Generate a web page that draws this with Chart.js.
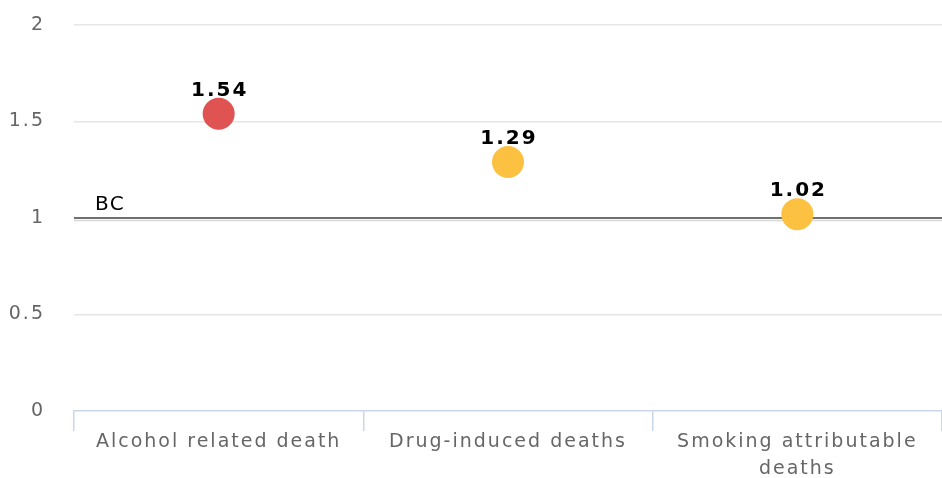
<!DOCTYPE html>
<html>
<head>
<meta charset="utf-8">
<script src="https://cdn.jsdelivr.net/npm/chart.js@4.4.1/dist/chart.umd.min.js"></script>
<style>
html, body { margin: 0; padding: 0; background: #fff; }
#wrap { width: 942px; height: 478px; position: relative; }
</style>
</head>
<body>
<div id="wrap"><canvas id="rateChart"></canvas></div>
<script>
const categories = ['Alcohol related death', 'Drug-induced deaths', ['Smoking attributable', 'deaths']];
const rates = [1.54, 1.29, 1.02];
const pointColors = ['#DF5353', '#FCC140', '#FCC140'];
const yTicks = [0, 0.5, 1, 1.5, 2];
const baseline = 1;
const baselineLabel = 'BC';

const FONT = '"DejaVu Sans", Verdana, sans-serif';

// canvas resets its state on resize, so put the spacing back each time
const spacingPlugin = {
    id: 'spacing',
    beforeLayout(chart) { chart.ctx.letterSpacing = '2px'; },
    beforeDraw(chart) { chart.ctx.letterSpacing = '2px'; }
};

const baselinePlugin = {
    id: 'baseline',
    beforeDatasetsDraw(chart) {
        const ctx = chart.ctx;
        const area = chart.chartArea;
        const y = chart.scales.y.getPixelForValue(baseline);
        ctx.save();
        ctx.strokeStyle = '#d8d8d8';
        ctx.lineWidth = 1.5;
        ctx.beginPath();
        ctx.moveTo(area.left, y + 2.5);
        ctx.lineTo(area.right, y + 2.5);
        ctx.stroke();
        ctx.strokeStyle = '#707070';
        ctx.lineWidth = 2;
        ctx.beginPath();
        ctx.moveTo(area.left, y);
        ctx.lineTo(area.right, y);
        ctx.stroke();
        ctx.fillStyle = '#000';
        ctx.font = '20px ' + FONT;
        ctx.letterSpacing = '1.5px';
        ctx.textBaseline = 'bottom';
        ctx.fillText(baselineLabel, area.left + 21, y - 3);
        ctx.restore();
    }
};

const valueLabels = {
    id: 'valueLabels',
    afterDatasetsDraw(chart) {
        const ctx = chart.ctx;
        const meta = chart.getDatasetMeta(0);
        ctx.save();
        ctx.font = 'bold 20px ' + FONT;
        ctx.letterSpacing = '2px';
        ctx.fillStyle = '#000';
        ctx.textAlign = 'center';
        ctx.textBaseline = 'bottom';
        meta.data.forEach((pt, i) => {
            ctx.fillText(rates[i].toFixed(2), pt.x + 1, pt.y - 13);
        });
        ctx.restore();
    }
};

new Chart(document.getElementById('rateChart').getContext('2d'), {
    type: 'line',
    data: {
        labels: categories,
        datasets: [{
            data: rates,
            showLine: false,
            pointRadius: 16,
            pointHoverRadius: 16,
            pointBorderWidth: 0,
            pointBackgroundColor: pointColors,
            pointBorderColor: pointColors,
        }],
    },
    options: {
        responsive: true,
        maintainAspectRatio: false,
        animation: false,
        layout: { autoPadding: false, padding: { top: 25, right: -5, bottom: 0, left: 0 } },
        plugins: {
            legend: { display: false },
            tooltip: { enabled: false },
        },
        scales: {
            x: {
                offset: true,
                afterFit: (s) => { s.height = 67; s.paddingLeft = 0; s.paddingRight = 0; },
                border: { color: '#ccd6eb', width: 1.5 },
                grid: {
                    offset: true,
                    drawOnChartArea: false,
                    drawTicks: true,
                    tickLength: 20,
                    color: '#ccd6eb',
                    lineWidth: 1.5,
                },
                ticks: {
                    color: '#666',
                    font: { family: FONT, size: 19, lineHeight: 1.4 },
                    padding: -2,
                    maxRotation: 0,
                    autoSkip: false,
                },
            },
            y: {
                min: 0,
                max: 2,
                afterFit: (s) => { s.width = 74; s.paddingTop = 0; s.paddingBottom = 0; },
                afterBuildTicks: (s) => { s.ticks = yTicks.map(v => ({ value: v })); },
                border: { display: false },
                grid: {
                    color: (c) => c.tick && c.tick.value === 0 ? 'rgba(0,0,0,0)' : '#e6e6e6',
                    lineWidth: 1.5,
                    drawTicks: false,
                },
                ticks: {
                    color: '#666',
                    font: { family: FONT, size: 19 },
                    padding: 29,
                    callback: (v) => String(v),
                },
            },
        },
    },
    plugins: [spacingPlugin, baselinePlugin, valueLabels],
});
</script>
</body>
</html>
